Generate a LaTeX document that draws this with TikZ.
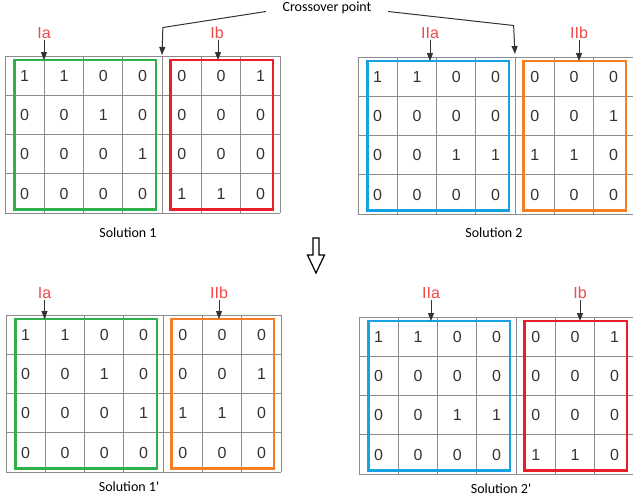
\documentclass[tikz,border=0pt]{standalone}
\usepackage{fontspec}
\setmainfont{Liberation Sans}
\newfontfamily\calibri{Carlito}
\usetikzlibrary{arrows.meta}

\definecolor{partred}{RGB}{238,74,74}
\definecolor{boxgreen}{RGB}{46,177,74}
\definecolor{boxred}{RGB}{232,30,40}
\definecolor{boxblue}{RGB}{22,162,226}
\definecolor{boxorange}{RGB}{246,126,34}

\tikzset{
  gridline/.style={draw=black!45, line width=0.9pt},
  cellnum/.style={font=\fontsize{16}{16}\selectfont, text=black!80},
  partlabel/.style={font=\fontsize{16}{16}\selectfont, text=partred, inner sep=1pt},
  pointer/.style={draw=black!80, line width=1pt, -{Triangle[length=8pt,width=6pt]}},
  caption/.style={font=\calibri\fontsize{14}{14}\selectfont},
  partbox/.style={line width=2.6pt}
}

\newcommand{\solgrid}[2]{%
  \foreach \k in {0,...,7} \draw[gridline] (\k*39.3,0) -- (\k*39.3,157.2);
  \foreach \k in {0,...,4} \draw[gridline] (0,\k*39.3) -- (275.1,\k*39.3);
  \foreach \row [count=\r] in {#2} {
    \foreach \v [count=\c] in \row
      \node[cellnum] (#1-\r-\c) at (\c*39.3-19.65,\r*39.3-19.65) {\v};
  }
}

\begin{document}
\begin{tikzpicture}[x=1pt,y=-1pt]
  \useasboundingbox (0,0) rectangle (633,501);

  \node[caption, inner xsep=16.5pt] (cross) at (327,7.5) {Crossover point};

  \begin{scope}[shift={(5,56)}]
    \solgrid{ga}{{1,1,0,0,0,0,1},{0,0,1,0,0,0,0},{0,0,0,1,0,0,0},{0,0,0,0,1,1,0}}
    \draw[partbox, boxgreen] (9.5,4) rectangle (151,153.5);
    \draw[partbox, boxred] (165.5,4) rectangle (268,153.5);
    \coordinate (ga-cut) at (157,-1);
    \coordinate (ga-l) at (39,4);
    \coordinate (ga-r) at (213,4);
    \node[partlabel] (ia1) at (39,-23) {Ia};
    \node[partlabel] (ib1) at (212,-23) {Ib};
    \node[caption] (sol1) at (123,177) {Solution 1};
  \end{scope}

  \begin{scope}[shift={(358,57)}]
    \solgrid{gb}{{1,1,0,0,0,0,0},{0,0,0,0,0,0,1},{0,0,1,1,1,1,0},{0,0,0,0,0,0,0}}
    \draw[partbox, boxblue] (9.5,4) rectangle (151,153.5);
    \draw[partbox, boxorange] (165.5,4) rectangle (268,153.5);
    \coordinate (gb-cut) at (157,-3);
    \coordinate (gb-l) at (72,4);
    \coordinate (gb-r) at (221,4);
    \node[partlabel] (iia1) at (72,-24) {IIa};
    \node[partlabel] (iib1) at (221,-24) {IIb};
    \node[caption] (sol2) at (136,176) {Solution 2};
  \end{scope}

  \begin{scope}[shift={(6,315)}]
    \solgrid{gc}{{1,1,0,0,0,0,0},{0,0,1,0,0,0,1},{0,0,0,1,1,1,0},{0,0,0,0,0,0,0}}
    \draw[partbox, boxgreen] (9.5,4) rectangle (151,153.5);
    \draw[partbox, boxorange] (165.5,4) rectangle (268,153.5);
    \coordinate (gc-l) at (38.5,4);
    \coordinate (gc-r) at (213,4);
    \node[partlabel] (ia2) at (38.5,-22) {Ia};
    \node[partlabel] (iib2) at (213,-22) {IIb};
    \node[caption] (sol3) at (123,172) {Solution 1'};
  \end{scope}

  \begin{scope}[shift={(359,317)}]
    \solgrid{gd}{{1,1,0,0,0,0,1},{0,0,0,0,0,0,0},{0,0,1,1,0,0,0},{0,0,0,0,1,1,0}}
    \draw[partbox, boxblue] (9.5,4) rectangle (151,153.5);
    \draw[partbox, boxred] (165.5,4) rectangle (268,153.5);
    \coordinate (gd-l) at (72,4);
    \coordinate (gd-r) at (221,4);
    \node[partlabel] (iia2) at (72,-24) {IIa};
    \node[partlabel] (ib2) at (221,-24) {Ib};
    \node[caption] (sol4) at (142,172) {Solution 2'};
  \end{scope}

  \draw[pointer] ([yshift=-4pt]cross.west) -- ++(-103,16) -- (ga-cut);
  \draw[pointer] ([yshift=-4pt]cross.east) -- ++(125.5,14) -- (gb-cut);

  \draw[pointer] (ia1) -- (ga-l);
  \draw[pointer] (ib1.south -| ga-r) -- (ga-r);
  \draw[pointer] (iia1) -- (gb-l);
  \draw[pointer] (iib1) -- (gb-r);
  \draw[pointer] (ia2) -- (gc-l);
  \draw[pointer] (iib2) -- (gc-r);
  \draw[pointer] (iia2) -- (gd-l);
  \draw[pointer] (ib2) -- (gd-r);

  \draw[line width=1.2pt] (313,238) -- (313,255) -- (307.5,255) -- (316,273)
    -- (324.5,255) -- (319,255) -- (319,238) -- cycle;
\end{tikzpicture}
\end{document}
